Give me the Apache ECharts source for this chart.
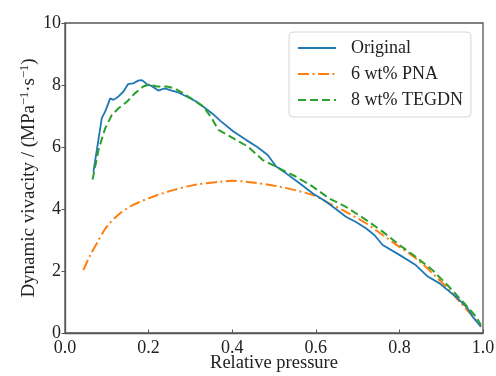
<!DOCTYPE html>
<html>
<head>
<meta charset="utf-8">
<script src="https://cdn.jsdelivr.net/npm/echarts@6/dist/echarts.min.js"></script>
<style>html,body{margin:0;padding:0;background:#fff}#c{width:496px;height:376px}</style>
</head>
<body>
<div id="c"></div>
<script>
const seriesNames = ['Original', '6 wt% PNA', '8 wt% TEGDN'];
const xTicks = [0, 0.2, 0.4, 0.6, 0.8, 1.0];
const yTicks = [0, 2, 4, 6, 8, 10];

const xOriginal = [0.068, 0.088, 0.096, 0.102, 0.108, 0.116, 0.128, 0.14, 0.151, 0.163, 0.175, 0.183, 0.19, 0.195, 0.207, 0.223, 0.239, 0.255, 0.271, 0.291, 0.315, 0.339, 0.355, 0.371, 0.403, 0.433, 0.46, 0.485, 0.505, 0.529, 0.561, 0.593, 0.624, 0.648, 0.672, 0.696, 0.72, 0.74, 0.76, 0.8, 0.839, 0.868, 0.896, 0.935, 0.963, 0.975, 0.995];
const yOriginal = [5.2, 6.93, 7.14, 7.35, 7.57, 7.52, 7.63, 7.79, 8.03, 8.05, 8.14, 8.16, 8.1, 8.03, 7.97, 7.82, 7.89, 7.82, 7.76, 7.63, 7.46, 7.22, 7.05, 6.85, 6.5, 6.23, 6.0, 5.74, 5.37, 5.15, 4.83, 4.5, 4.24, 4.0, 3.75, 3.58, 3.38, 3.16, 2.84, 2.52, 2.19, 1.82, 1.6, 1.17, 0.8, 0.53, 0.2];

const xPNA = [0.044, 0.06, 0.076, 0.1, 0.132, 0.163, 0.211, 0.259, 0.307, 0.371, 0.4, 0.433, 0.513, 0.593, 0.624, 0.672, 0.72, 0.76, 0.8, 0.839, 0.879, 0.919, 0.951, 0.983, 0.995];
const yPNA = [2.03, 2.5, 2.89, 3.43, 3.86, 4.13, 4.40, 4.61, 4.77, 4.88, 4.91, 4.88, 4.72, 4.45, 4.24, 3.91, 3.54, 3.16, 2.78, 2.41, 1.93, 1.39, 0.9, 0.42, 0.2];

const xTEGDN = [0.066, 0.08, 0.096, 0.112, 0.128, 0.148, 0.167, 0.187, 0.203, 0.219, 0.243, 0.263, 0.283, 0.307, 0.331, 0.351, 0.367, 0.403, 0.438, 0.473, 0.513, 0.553, 0.593, 0.632, 0.672, 0.72, 0.76, 0.8, 0.839, 0.879, 0.919, 0.955, 0.983, 0.995];
const yTEGDN = [4.95, 5.9, 6.6, 7.03, 7.25, 7.46, 7.73, 7.95, 8.02, 7.95, 7.95, 7.89, 7.73, 7.52, 7.3, 6.93, 6.55, 6.28, 6.01, 5.58, 5.31, 5.04, 4.72, 4.34, 4.07, 3.65, 3.27, 2.84, 2.46, 2.03, 1.49, 0.96, 0.53, 0.26];

const zip = (xs, ys) => xs.map((x, i) => [x, ys[i]]);
const FONT = 'Liberation Serif';
const AX = '#555';

const chart = echarts.init(document.getElementById('c'), null, {renderer: 'canvas'});
chart.setOption({
  animation: false,
  textStyle: {fontFamily: FONT},
  grid: {left: 65, right: 13, top: 23, bottom: 43, show: true, borderColor: AX, borderWidth: 1.3,
         containLabel: false, outerBoundsMode: 'none'},
  legend: {
    left: 289, top: 32, orient: 'vertical',
    padding: [7, 8, 8, 8],
    itemWidth: 38, itemHeight: 14, itemGap: 8,
    selectedMode: false,
    itemStyle: {opacity: 0},
    borderColor: '#d6d6d6', borderWidth: 1, borderRadius: 4, backgroundColor: '#fff',
    textStyle: {fontFamily: FONT, fontSize: 18, color: '#222', padding: [0, 0, 0, 10]},
    data: seriesNames
  },
  xAxis: {
    type: 'value', min: 0, max: 1, interval: 0.2,
    name: 'Relative pressure', nameLocation: 'middle', nameGap: 21, nameMoveOverlap: false,
    nameTextStyle: {fontFamily: FONT, fontSize: 18.5, color: '#222'},
    axisLine: {show: true, lineStyle: {color: AX, width: 1.3}},
    axisTick: {show: true, inside: true, length: 3.5, lineStyle: {color: AX}},
    axisLabel: {fontFamily: FONT, fontSize: 18, color: '#222', margin: 6, formatter: v => v.toFixed(1)},
    splitLine: {show: false}
  },
  yAxis: {
    type: 'value', min: 0, max: 10, interval: 2,
    name: 'Dynamic vivacity / (MPa{sup|\u22121}\u00b7s{sup|\u22121})',
    nameLocation: 'middle', nameGap: 25, nameRotate: 90, nameMoveOverlap: false,
    nameTextStyle: {fontFamily: FONT, fontSize: 19, color: '#222', lineHeight: 22,
      rich: {sup: {fontFamily: FONT, fontSize: 12.5, color: '#222', verticalAlign: 'top', lineHeight: 22}}},
    axisLine: {show: true, lineStyle: {color: AX, width: 1.3}},
    axisTick: {show: true, inside: false, length: 3.5, lineStyle: {color: AX}},
    axisLabel: {fontFamily: FONT, fontSize: 18, color: '#222', margin: 4},
    splitLine: {show: false}
  },
  series: [
    {name: seriesNames[0], type: 'line', symbol: 'none', data: zip(xOriginal, yOriginal),
     lineStyle: {color: '#1f77b4', width: 1.8}, itemStyle: {color: '#1f77b4'}, z: 3},
    {name: seriesNames[1], type: 'line', symbol: 'none', smooth: 0.3, data: zip(xPNA, yPNA),
     lineStyle: {color: '#ff7f0e', width: 2, type: [11, 3.5, 2, 3.5]}, itemStyle: {color: '#ff7f0e'}, z: 2},
    {name: seriesNames[2], type: 'line', symbol: 'none', data: zip(xTEGDN, yTEGDN),
     lineStyle: {color: '#2ca02c', width: 2, type: [8, 4]}, itemStyle: {color: '#2ca02c'}, z: 4}
  ]
});
</script>
</body>
</html>
